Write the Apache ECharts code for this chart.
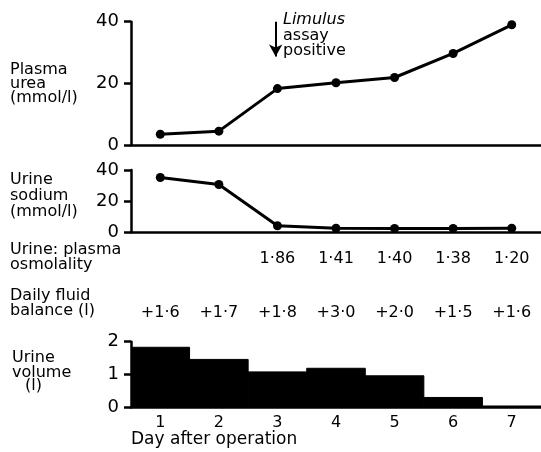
<!DOCTYPE html>
<html>
<head>
<meta charset="utf-8">
<script src="https://cdn.jsdelivr.net/npm/echarts@6/dist/echarts.min.js"></script>
<style>
html,body{margin:0;padding:0;background:#fff;}
#chart{width:541px;height:452px;}
</style>
</head>
<body>
<div id="chart"></div>
<script>
// ---- data ----
const days = [1, 2, 3, 4, 5, 6, 7];
const plasmaUrea = [3.5, 4.5, 18.3, 20.2, 21.9, 29.7, 39.0];
const urineSodium = [35.2, 30.7, 4.2, 2.6, 2.5, 2.5, 2.6];
const osmolality = ['', '', '1·86', '1·41', '1·40', '1·38', '1·20'];
const fluidBalance = ['+1·6', '+1·7', '+1·8', '+3·0', '+2·0', '+1·5', '+1·6'];
const urineVolume = [1.83, 1.46, 1.08, 1.19, 0.96, 0.30, 0.04];
const limulusDay = 2.97;

const FONT = 'DejaVu Sans';
const BLACK = '#000';
const chart = echarts.init(document.getElementById('chart'), null, {renderer: 'canvas'});

const gridLeft = 131;
const gridWidth = 413;

function xAxisBase(gridIndex) {
  return {
    type: 'value', gridIndex, min: 0.5, max: 7.5,
    axisLine: {show: true, onZero: false, lineStyle: {color: BLACK, width: 2.5}},
    axisTick: {show: false},
    splitLine: {show: false},
    axisLabel: {show: false}
  };
}
function yAxisBase(gridIndex, max, interval) {
  return {
    type: 'value', gridIndex, min: 0, max, interval,
    axisLine: {show: true, lineStyle: {color: BLACK, width: 2.5}},
    axisTick: {show: true, length: 7, lineStyle: {color: BLACK, width: 2.5}},
    axisLabel: {show: true, color: BLACK, fontFamily: FONT, fontSize: 18, margin: 12},
    splitLine: {show: false}
  };
}

const option = {
  backgroundColor: '#fff',
  animation: false,
  grid: [
    {left: gridLeft, width: gridWidth, top: 21.7, height: 123.3},
    {left: gridLeft, width: gridWidth, top: 170, height: 62.3},
    {left: gridLeft, width: gridWidth, top: 341.7, height: 65.6}
  ],
  xAxis: [
    xAxisBase(0),
    Object.assign(xAxisBase(1), {
      axisLabel: {show: true, customValues: days, color: BLACK, fontFamily: FONT, fontSize: 16, margin: 19,
        formatter: v => osmolality[Math.round(v) - 1] || ''}
    }),
    Object.assign(xAxisBase(2), {
      axisLabel: {show: true, customValues: days, color: BLACK, fontFamily: FONT, fontSize: 16, margin: 8,
        formatter: v => String(v)}
    }),
    Object.assign(xAxisBase(2), {
      position: 'top',
      axisLine: {show: false},
      axisLabel: {show: true, customValues: days, color: BLACK, fontFamily: FONT, fontSize: 16, margin: 21,
        formatter: v => fluidBalance[Math.round(v) - 1] || ''}
    })
  ],
  yAxis: [
    yAxisBase(0, 40, 20),
    yAxisBase(1, 40, 20),
    yAxisBase(2, 2, 1)
  ],
  series: [
    {
      type: 'line', xAxisIndex: 0, yAxisIndex: 0,
      data: days.map((d, i) => [d, plasmaUrea[i]]),
      symbol: 'circle', symbolSize: 9,
      lineStyle: {color: BLACK, width: 3},
      itemStyle: {color: BLACK},
      markLine: {
        silent: true,
        symbol: ['none', 'arrow'], symbolSize: [10, 12],
        label: {show: false},
        emphasis: {disabled: true},
        lineStyle: {color: BLACK, width: 2, type: 'solid'},
        data: [[{coord: [limulusDay, 40]}, {coord: [limulusDay, 28.7]}]]
      }
    },
    {
      type: 'line', xAxisIndex: 1, yAxisIndex: 1,
      data: days.map((d, i) => [d, urineSodium[i]]),
      symbol: 'circle', symbolSize: 9,
      lineStyle: {color: BLACK, width: 3},
      itemStyle: {color: BLACK}
    },
    {
      type: 'custom', xAxisIndex: 2, yAxisIndex: 2,
      clip: true,
      data: days.map((d, i) => [d, urineVolume[i]]),
      renderItem: function (params, api) {
        const x = api.value(0), y = api.value(1);
        const p0 = api.coord([x - 0.5, y]);
        const p1 = api.coord([x + 0.5, 0]);
        return {
          type: 'rect',
          shape: {x: p0[0], y: p0[1], width: p1[0] - p0[0], height: p1[1] - p0[1]},
          style: {fill: BLACK, stroke: BLACK, lineWidth: 1}
        };
      }
    }
  ],
  graphic: [
    {type: 'text', left: 10, top: 62, style: {text: 'Plasma\nurea\n(mmol/l)', font: '16px "DejaVu Sans"', lineHeight: 14, fill: BLACK}},
    {type: 'text', left: 10, top: 172, style: {text: 'Urine\nsodium\n(mmol/l)', font: '16px "DejaVu Sans"', lineHeight: 16, fill: BLACK}},
    {type: 'text', left: 10, top: 242, style: {text: 'Urine: plasma\nosmolality', font: '16px "DejaVu Sans"', lineHeight: 15, fill: BLACK}},
    {type: 'text', left: 10, top: 288, style: {text: 'Daily fluid\nbalance (l)', font: '16px "DejaVu Sans"', lineHeight: 15, fill: BLACK}},
    {type: 'text', left: 12, top: 350, style: {text: 'Urine\nvolume', font: '16px "DejaVu Sans"', lineHeight: 15, fill: BLACK}},
    {type: 'text', left: 25, top: 378, style: {text: '(l)', font: '16px "DejaVu Sans"', fill: BLACK}},
    {type: 'text', left: 131, top: 431, style: {text: 'Day after operation', font: '17px "DejaVu Sans"', fill: BLACK}},
    {type: 'text', left: 283, top: 12, style: {text: 'Limulus', font: 'italic 16px "DejaVu Sans"', fill: BLACK}},
    {type: 'text', left: 283, top: 28, style: {text: 'assay\npositive', font: '16px "DejaVu Sans"', lineHeight: 15, fill: BLACK}}
  ]
};
chart.setOption(option);
</script>
</body>
</html>
